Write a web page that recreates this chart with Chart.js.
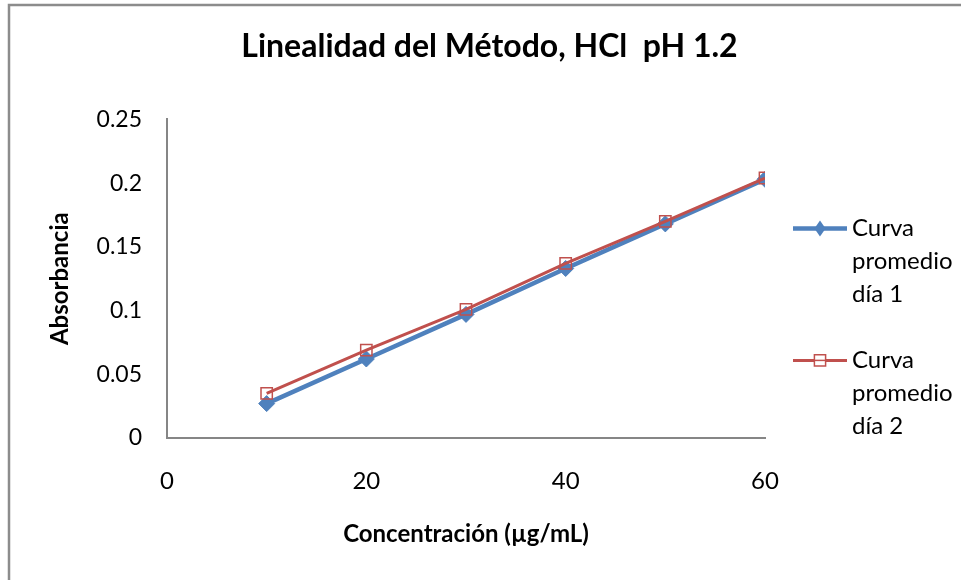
<!DOCTYPE html>
<html>
<head>
<meta charset="utf-8">
<script src="https://cdn.jsdelivr.net/npm/chart.js@4.4.1/dist/chart.umd.min.js"></script>
<style>
  html, body { margin: 0; padding: 0; background: #fff; }
  canvas { display: block; }
</style>
</head>
<body>
<canvas id="chart" width="961" height="580"></canvas>
<script>
const concentrations = [10, 20, 30, 40, 50, 60];
const day1 = [0.027, 0.062, 0.097, 0.133, 0.168, 0.203];
const day2 = [0.035, 0.069, 0.101, 0.137, 0.170, 0.204];
const seriesNames = [['Curva', 'promedio', 'día 1'], ['Curva', 'promedio', 'día 2']];
const chartTitle = 'Linealidad del Método, HCl  pH 1.2';
const xTitle = 'Concentración (µg/mL)';
const yTitle = 'Absorbancia';

const blue = '#4F81BD';
const red = '#C0504D';
const axisGray = '#868686';
const font = 'Lato, "Open Sans", sans-serif';

const toPoints = ys => concentrations.map((x, i) => ({x: x, y: ys[i]}));

// frame round the chart (only top and left edges show in the picture)
const framePlugin = {
    id: 'frame',
    beforeDraw(chart) {
        const ctx = chart.ctx;
        ctx.save();
        ctx.fillStyle = '#fff';
        ctx.fillRect(0, 0, chart.width, chart.height);
        ctx.strokeStyle = '#8c8c8c';
        ctx.lineWidth = 2.5;
        ctx.strokeRect(9, 5, chart.width + 50, chart.height + 50);
        ctx.restore();
    }
};

// legend with wrapped labels on the right
const legendPlugin = {
    id: 'wrapLegend',
    afterDraw(chart) {
        const ctx = chart.ctx;
        const area = chart.chartArea;
        const x0 = area.right + 28;
        const cx = x0 + 27;
        ctx.save();
        chart.data.datasets.forEach((ds, i) => {
            const y = area.top + 109 + i * 132;
            const r = ds.legendRadius;
            ctx.strokeStyle = ds.borderColor;
            ctx.lineWidth = ds.borderWidth;
            ctx.beginPath();
            ctx.moveTo(x0, y);
            ctx.lineTo(x0 + 54, y);
            ctx.stroke();
            ctx.beginPath();
            if (ds.pointStyle === 'rectRot') {
                ctx.fillStyle = ds.pointBackgroundColor;
                ctx.moveTo(cx, y - r);
                ctx.lineTo(cx + r * 0.7, y);
                ctx.lineTo(cx, y + r);
                ctx.lineTo(cx - r * 0.7, y);
                ctx.closePath();
                ctx.fill();
            } else {
                ctx.rect(cx - r * 0.7, y - r * 0.7, r * 1.4, r * 1.4);
                ctx.fillStyle = '#fff';
                ctx.fill();
                ctx.strokeStyle = ds.pointBorderColor;
                ctx.lineWidth = ds.pointBorderWidth;
                ctx.stroke();
                ctx.beginPath();
                ctx.moveTo(cx - r * 0.7, y);
                ctx.lineTo(cx + r * 0.7, y);
                ctx.stroke();
            }
            ctx.fillStyle = '#000';
            ctx.font = '24px ' + font;
            ctx.textAlign = 'left';
            ctx.textBaseline = 'middle';
            seriesNames[i].forEach((line, k) => {
                ctx.fillText(line, x0 + 59, y + k * 33);
            });
        });
        ctx.restore();
    }
};

const config = {
    type: 'line',
    data: {
        datasets: [{
            label: seriesNames[0].join(' '),
            data: toPoints(day1),
            borderColor: blue,
            backgroundColor: blue,
            borderWidth: 4.5,
            pointStyle: 'rectRot',
            pointRadius: 8,
            legendRadius: 8,
            pointBackgroundColor: blue,
            pointBorderColor: blue,
            pointBorderWidth: 1,
            order: 1
        }, {
            label: seriesNames[1].join(' '),
            data: toPoints(day2),
            borderColor: red,
            backgroundColor: red,
            borderWidth: 3,
            pointStyle: 'rect',
            pointRadius: 8,
            legendRadius: 8,
            pointBackgroundColor: 'rgba(0,0,0,0)',
            pointBorderColor: red,
            pointBorderWidth: 1.5,
            order: 0
        }]
    },
    options: {
        responsive: false,
        animation: false,
        layout: { padding: { left: 18, top: 0, right: 0, bottom: 0 } },
        plugins: {
            legend: { display: false },
            tooltip: { enabled: false },
            title: {
                display: true,
                text: chartTitle,
                color: '#000',
                font: { family: font, size: 32, weight: 'bold', lineHeight: 1.2 },
                padding: { top: 27, bottom: 54 }
            }
        },
        scales: {
            x: {
                type: 'linear',
                min: 0,
                max: 60,
                grid: { display: false, drawTicks: false },
                border: { display: true, color: axisGray, width: 2 },
                ticks: {
                    stepSize: 20,
                    padding: 29,
                    color: '#000',
                    font: { family: font, size: 24 }
                },
                title: {
                    display: true,
                    text: xTitle,
                    color: '#000',
                    font: { family: font, size: 24, weight: 'bold', lineHeight: 1.2 },
                    padding: { top: 0, bottom: 31 }
                },
                afterFit(scale) { scale.height = 142; }
            },
            y: {
                min: 0,
                max: 0.25,
                grid: { display: false, drawTicks: false },
                border: { display: true, color: axisGray, width: 2 },
                ticks: {
                    stepSize: 0.05,
                    padding: 25,
                    color: '#000',
                    font: { family: font, size: 23 },
                    callback: v => String(+v.toFixed(2))
                },
                title: {
                    display: true,
                    text: yTitle,
                    color: '#000',
                    font: { family: font, size: 24, weight: 'bold', lineHeight: 1.2 },
                    padding: { top: 28, bottom: 0 }
                },
                afterFit(scale) { scale.width = 149; }
            },
            yRight: {
                position: 'right',
                display: true,
                grid: { display: false, drawTicks: false },
                border: { display: false },
                ticks: { display: false },
                afterFit(scale) { scale.width = 196; }
            }
        }
    },
    plugins: [framePlugin, legendPlugin]
};

const myChart = new Chart(document.getElementById('chart'), config);
</script>
</body>
</html>
